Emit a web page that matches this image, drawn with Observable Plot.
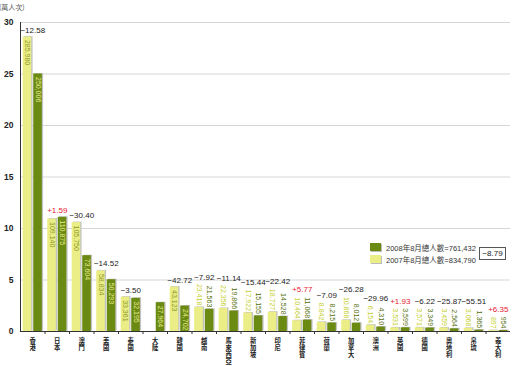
<!DOCTYPE html>
<html><head><meta charset="utf-8">
<script src="https://cdn.jsdelivr.net/npm/d3@7"></script>
<script src="https://cdn.jsdelivr.net/npm/@observablehq/plot@0.6"></script>
<style>
body{margin:0;background:#fff;}
#wrap{position:relative;width:520px;height:366px;font-family:"Liberation Sans",Arial,sans-serif;}
#unit{position:absolute;left:-1px;top:3px;font-size:7px;color:#555;font-family:"Noto Sans CJK TC",sans-serif;line-height:8px;}
#legend{position:absolute;left:370px;top:241px;font-size:7.5px;color:#333;font-family:"Liberation Sans","Noto Sans CJK TC",sans-serif;}
.row{display:flex;align-items:center;height:12px;}
.sw{width:11px;height:8px;margin-right:5px;box-shadow:1px 1px 0 #bbb;}
#total{position:absolute;left:479px;top:247px;width:25px;height:11px;border:1px solid #555;font-size:8px;line-height:11px;text-align:center;color:#222;background:#fff;}
</style></head>
<body><div id="wrap"></div>
<script>
const categories = ["香港","日本","澳門","美國","泰國","大陸","韓國","越南","馬來西亞","新加坡","印尼","菲律賓","荷蘭","加拿大","澳洲","英國","德國","奧地利","帛琉","義大利"];
const visitors2007 = [285980,109140,105750,58834,33361,null,43123,23418,22356,17922,18727,10464,8842,10868,6154,3531,3571,3459,3068,897];
const visitors2008 = [250006,110875,73604,50293,32195,27964,24702,21563,19866,15155,14528,11068,8215,8012,4310,3599,3349,2564,1365,954];
const changes = [-12.58,1.59,-30.40,-14.52,-3.50,null,-42.72,-7.92,-11.14,-15.44,-22.42,5.77,-7.09,-26.28,-29.96,1.93,-6.22,-25.87,-55.51,6.35];
const yTicks = [0,5,10,15,20,25,30];
const seriesNames = ["2008年8月總人數=761,432","2007年8月總人數=834,790"];
const totalChange = -8.79;
const unitLabel = "(萬人次)";

const W = 520, H = 366, mT = 22, mB = 35, mL = 20, mR = 10;
const pxPerUnit = (H - mT - mB) / 30;
const fmt = d3.format(",");
const pct = v => (v > 0 ? "+" : "−") + Math.abs(v).toFixed(2);
const textLen = s => [...s].reduce((a, ch) => a + (ch === "," ? 1.95 : 3.89), 0);

const colors = {"2007": "#ebee86", "2008": "#6b8a12"};
const rows = [];
categories.forEach((c, i) => {
  [["2007", visitors2007[i]], ["2008", visitors2008[i]]].forEach(([s, n]) => {
    if (n == null) return;
    const v = n / 1e4, label = fmt(n), len = textLen(label);
    rows.push({i, s, n, v, label, len, fits: v * pxPerUnit >= len + 3});
  });
});
const groups = categories.map((c, i) => {
  const rs = rows.filter(r => r.i === i);
  const top = d3.max(rs, r => r.v + (r.fits ? 0 : (r.len + 2) / pxPerUnit));
  return {i, top, change: changes[i]};
}).filter(g => g.change != null);

// vertical category labels: one text per character, stacked below the baseline
const lineStep = 7.3, firstLine = 9;
const chars = [];
categories.forEach((c, i) => [...c].forEach((ch, k) => chars.push({i, ch, y: -(firstLine + k * lineStep) / pxPerUnit})));

const x1 = r => r.i + (r.s === "2007" ? -0.39 : 0.04);
const x2 = r => r.i + (r.s === "2007" ? -0.04 : 0.39);
const xc = r => (x1(r) + x2(r)) / 2;
const idx = categories.map((c, i) => i);
const bounds = idx.slice(0, -1).map(i => i + 0.5);

const chart = Plot.plot({
  width: W, height: H, marginTop: mT, marginBottom: mB, marginLeft: mL, marginRight: mR,
  style: {fontFamily: "'Liberation Sans', Arial, sans-serif", fontSize: "8px", background: "transparent", overflow: "visible"},
  x: {type: "linear", domain: [-0.5, categories.length - 0.5]},
  y: {domain: [0, 30]},
  marks: [
    Plot.ruleY(yTicks.slice(1), {stroke: "#d6d6d6", strokeWidth: 1}),
    Plot.rectY(rows, {x1, x2, y1: 0, y2: "v", fill: "#c2c2c2", dx: 1.3, dy: -0.5}),
    Plot.rectY(rows, {x1, x2, y1: 0, y2: "v", fill: r => colors[r.s]}),
    Plot.text(rows.filter(r => r.fits), {x: xc, y: "v", text: "label", rotate: 90, textAnchor: "start", dy: 3,
      fontSize: 7, fill: r => r.s === "2007" ? "#8d9a26" : "#e6ec8c"}),
    Plot.text(rows.filter(r => !r.fits), {x: xc, y: "v", text: "label", rotate: 90, textAnchor: "end", dy: -2,
      fontSize: 7, fill: r => r.s === "2007" ? "#c5cf2c" : "#55700c"}),
    Plot.text(groups, {x: "i", y: "top", dy: -7, text: g => pct(g.change), fontSize: 8,
      fill: g => g.change > 0 ? "#e8202e" : "#222"}),
    Plot.ruleY([0], {stroke: "#333", strokeWidth: 1.2}),
    Plot.ruleX([-0.5], {y1: 0, y2: 30, stroke: "#333", strokeWidth: 1}),
    Plot.axisX({ticks: bounds, tickSize: 3, tickFormat: () => "", stroke: "#333", label: null}),
    Plot.axisY({ticks: yTicks, tickSize: 0, tickPadding: 7, fontWeight: "bold", fontSize: 8.5, fill: "#222", label: null}),
    Plot.text(chars, {x: "i", y: "y", text: "ch", fontSize: 6.3, fontWeight: "bold",
      fontFamily: "'Noto Sans CJK TC', sans-serif", fill: "#222"})
  ]
});

const wrap = document.getElementById("wrap");
wrap.appendChild(chart);
const u = document.createElement("div"); u.id = "unit"; u.textContent = unitLabel; wrap.appendChild(u);
const lg = document.createElement("div"); lg.id = "legend";
[["2008", seriesNames[0]], ["2007", seriesNames[1]]].forEach(([s, t]) => {
  const r = document.createElement("div"); r.className = "row";
  const sw = document.createElement("span"); sw.className = "sw"; sw.style.background = colors[s];
  const tx = document.createElement("span"); tx.textContent = t;
  r.appendChild(sw); r.appendChild(tx); lg.appendChild(r);
});
wrap.appendChild(lg);
const tb = document.createElement("div"); tb.id = "total"; tb.textContent = pct(totalChange); wrap.appendChild(tb);
</script>
</body></html>
